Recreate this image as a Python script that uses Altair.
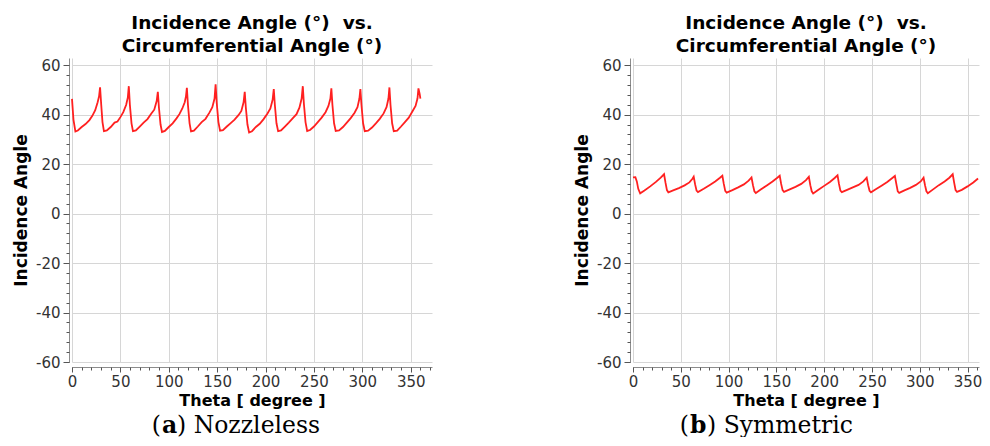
import altair as alt
import pandas as pd

# ---------------- data ----------------
left_theta = [0, 1.5, 3.5, 6, 10, 14, 18, 21, 24, 26.5, 28, 29, 30.2, 31.5, 33,
              36, 40, 44, 47, 50, 53, 56, 57.7, 58.7, 59.8, 61.5, 63,
              66, 70, 74, 78, 82, 85, 87.5, 88.7, 89.8, 91.5, 93,
              96, 100, 104, 108, 111, 114, 116.5, 117.8, 118.7, 119.8, 121.5, 123,
              126, 130, 134, 138, 142, 145, 147.3, 148.4, 149.5, 151.3, 153,
              156, 160, 164, 168, 172, 175, 177.3, 178.5, 179.6, 181.3, 183,
              186, 190, 194, 198, 202, 205, 207.3, 208.5, 209.6, 211.3, 213,
              216, 220, 224, 228, 232, 235, 237.3, 238.5, 239.6, 241.3, 243,
              246, 250, 254, 258, 262, 265, 267, 268, 269.1, 270.8, 272.5,
              276, 280, 284, 288, 292, 295, 297, 298, 299.1, 300.8, 302.5,
              306, 310, 314, 318, 322, 325, 327, 328, 329.1, 330.8, 332.5,
              336, 340, 344, 348, 352, 355, 357, 358, 359.2, 360]
left_angle = [46.4, 38, 33.2, 33.6, 35, 36.2, 37.8, 39.5, 41.8, 45, 47.5, 51, 44, 37, 33.3,
              33.6, 35, 36.8, 37.2, 39, 41, 44, 47, 51.5, 44, 36.5, 33.3,
              33.6, 35.2, 36.8, 38.2, 40.5, 42, 45.5, 49.2, 43, 36, 33,
              33.4, 35, 36.5, 38.5, 40.2, 42.5, 45, 47.5, 50.8, 44, 36.5, 33.2,
              33.5, 35.2, 37, 38.3, 40.8, 43, 46.5, 52.3, 45, 37, 33.5,
              33.7, 35.2, 36.6, 38, 39.8, 41.5, 45, 49.2, 43, 36, 32.8,
              33.3, 35, 36.3, 38.2, 40.5, 42.5, 46, 50.3, 44, 36.5, 33.3,
              33.6, 35.2, 36.8, 38.5, 40.2, 42.8, 46.5, 51.5, 44.5, 37, 33.4,
              33.8, 35.2, 37, 38.8, 41, 43.5, 46.5, 50.6, 44, 36.5, 33.4,
              33.6, 35, 36.8, 38.6, 40.8, 43, 46.5, 50.3, 44, 36.5, 33.3,
              33.5, 34.8, 36.5, 38.3, 40.5, 43, 46.5, 51, 44, 36.5, 33.3,
              33.5, 35.2, 37, 38.8, 41.5, 43.5, 46.5, 50.6, 48.5, 46.5]

right_theta = [0, 2.5, 4, 5.5, 7.5, 12, 18, 24, 29, 32.5,
               34, 35.5, 37, 42, 48, 54, 59, 62, 63.5,
               65, 66.5, 68, 74, 80, 86, 91, 93.5,
               95, 96.5, 98, 104, 110, 116, 121, 124,
               125.5, 127, 128.5, 134, 140, 146, 151, 153.5,
               155, 156.5, 158, 164, 170, 176, 181, 184,
               185.5, 187, 188.5, 194, 200, 206, 211, 214,
               215.5, 217, 218.5, 224, 230, 236, 241, 244.5,
               246, 247.5, 249, 254, 260, 266, 271, 274,
               275.5, 277, 278.5, 284, 290, 296, 301, 304,
               305.5, 307, 308.5, 314, 320, 326, 331, 334.5,
               336, 337.5, 339, 344, 350, 356, 361]
right_angle = [14.6, 14.7, 13, 10, 8.2, 9.3, 11, 12.8, 14.5, 15.9,
               12.5, 9.5, 8.6, 9.4, 10.3, 11.4, 12.6, 14, 14.9,
               11.8, 9.3, 8.7, 10, 11.5, 13, 14.5, 15.3,
               12, 9.2, 8.5, 9.5, 10.6, 11.8, 13.3, 14.6,
               11.5, 9, 8.3, 9.8, 11.4, 13, 14.5, 15.3,
               12, 9.5, 8.8, 9.8, 10.8, 12, 13.5, 14.9,
               11.5, 9, 8.1, 9.6, 11.2, 12.8, 14.4, 15.5,
               12, 9.3, 8.7, 9.6, 10.6, 11.6, 13, 14.5,
               11.5, 9.2, 8.6, 9.8, 11.3, 12.8, 14.3, 15.2,
               12, 9, 8.4, 9.4, 10.4, 11.6, 13, 14.5,
               11.5, 9, 8.2, 9.8, 11.5, 13, 14.5, 15.9,
               12.5, 9.5, 8.8, 9.6, 11, 12.6, 14.2]

x_major = [0, 50, 100, 150, 200, 250, 300, 350]
x_minor_left = [0, 10, 20, 30, 40, 50, 60, 70, 80, 90, 100, 110, 120, 130, 140, 150,
                160, 170, 180, 190, 200, 210, 220, 230, 240, 250, 260, 270, 280, 290,
                300, 310, 320, 330, 340, 350, 360, 370]
x_minor_right = [0, 10, 20, 30, 40, 50, 60, 70, 80, 90, 100, 110, 120, 130, 140, 150,
                 160, 170, 180, 190, 200, 210, 220, 230, 240, 250, 260, 270, 280, 290,
                 300, 310, 320, 330, 340, 350, 360]
y_major = [-60, -40, -20, 0, 20, 40, 60]
y_minor = [-60, -56, -52, -48, -44, -40, -36, -32, -28, -24, -20, -16, -12, -8, -4,
           0, 4, 8, 12, 16, 20, 24, 28, 32, 36, 40, 44, 48, 52, 56, 60]

title_lines = ["Incidence Angle (°)\u00a0 vs.", "Circumferential Angle (°)"]
x_title = "Theta [ degree ]"
y_title = "Incidence Angle"
caption_a = ["(", "a", ") Nozzleless"]
caption_b = ["(", "b", ") Symmetric"]

SANS = "DejaVu Sans"
SERIF = "DejaVu Serif"
RED = "#ff2020"
PLOT_H = 304
CAP_Y = 374.5
CAP_SIZE = 23.5


def panel(theta, angle, caption, width, xmax, x_minor, cap_x):
    df = pd.DataFrame({"theta": theta, "angle": angle})
    xs = alt.Scale(domain=[0, xmax], nice=False, zero=False)
    ys = alt.Scale(domain=[-60, 62.9], nice=False, zero=False)

    line = alt.Chart(df).mark_line(color=RED, strokeWidth=1.8).encode(
        x=alt.X("theta:Q", scale=xs,
                axis=alt.Axis(values=x_major, title=x_title, orient="bottom",
                              grid=True, offset=5, tickSize=5, labelPadding=2,
                              titlePadding=3, titleFontSize=16, labelFlush=False,
                              labelExpr="datum.value + ''")),
        y=alt.Y("angle:Q", scale=ys,
                axis=alt.Axis(values=y_major, title=y_title, orient="left",
                              grid=True, offset=3, tickSize=6, labelPadding=3,
                              titlePadding=5, titleFontSize=17, labelFlush=False,
                              labelExpr="datum.value + ''")),
    )
    minor = alt.Chart(df).mark_line(opacity=0).encode(
        x=alt.X("theta:Q", scale=xs,
                axis=alt.Axis(values=x_minor, title="", orient="bottom", labels=False,
                              grid=False, domain=False, offset=5, tickSize=3)),
        y=alt.Y("angle:Q", scale=ys,
                axis=alt.Axis(values=y_minor, title="", orient="left", labels=False,
                              grid=False, domain=False, offset=3, tickSize=3)),
    )
    p_open = alt.Chart(pd.DataFrame({"t": [caption[0]]})).mark_text(
        font=SERIF, fontSize=CAP_SIZE, align="right", baseline="alphabetic", color="black"
    ).encode(text="t:N", x=alt.value(cap_x[0]), y=alt.value(CAP_Y))
    p_letter = alt.Chart(pd.DataFrame({"t": [caption[1]]})).mark_text(
        font=SERIF, fontSize=CAP_SIZE, fontWeight="bold", align="left",
        baseline="alphabetic", color="black"
    ).encode(text="t:N", x=alt.value(cap_x[0] + 1), y=alt.value(CAP_Y))
    p_rest = alt.Chart(pd.DataFrame({"t": [caption[2]]})).mark_text(
        font=SERIF, fontSize=CAP_SIZE, align="left", baseline="alphabetic", color="black"
    ).encode(text="t:N", x=alt.value(cap_x[1]), y=alt.value(CAP_Y))

    return alt.layer(line, minor, p_open, p_letter, p_rest).resolve_axis(
        x="independent", y="independent"
    ).properties(
        width=width, height=PLOT_H,
        title=alt.Title(title_lines, font=SANS, fontSize=18.5, fontWeight="bold",
                        color="black", anchor="middle", offset=3, lineHeight=23),
    )


left = panel(left_theta, left_angle, caption_a, 360, 372, x_minor_left, (89, 105))
right = panel(right_theta, right_angle, caption_b, 346, 362, x_minor_right, (56, 74))

chart = alt.hconcat(left, right, spacing=141).properties(
    padding={"left": 4, "top": 5, "right": 0, "bottom": 0}
).configure_view(stroke=None).configure_axis(
    labelFont=SANS, labelFontSize=15, labelColor="#333333",
    titleFont=SANS, titleFontWeight="bold", titleColor="black",
    domainColor="#8c8c8c", tickColor="#555555", gridColor="#d6d6d6", gridWidth=1,
)

chart.save("out.html", embed_options={"renderer": "svg", "actions": False})
